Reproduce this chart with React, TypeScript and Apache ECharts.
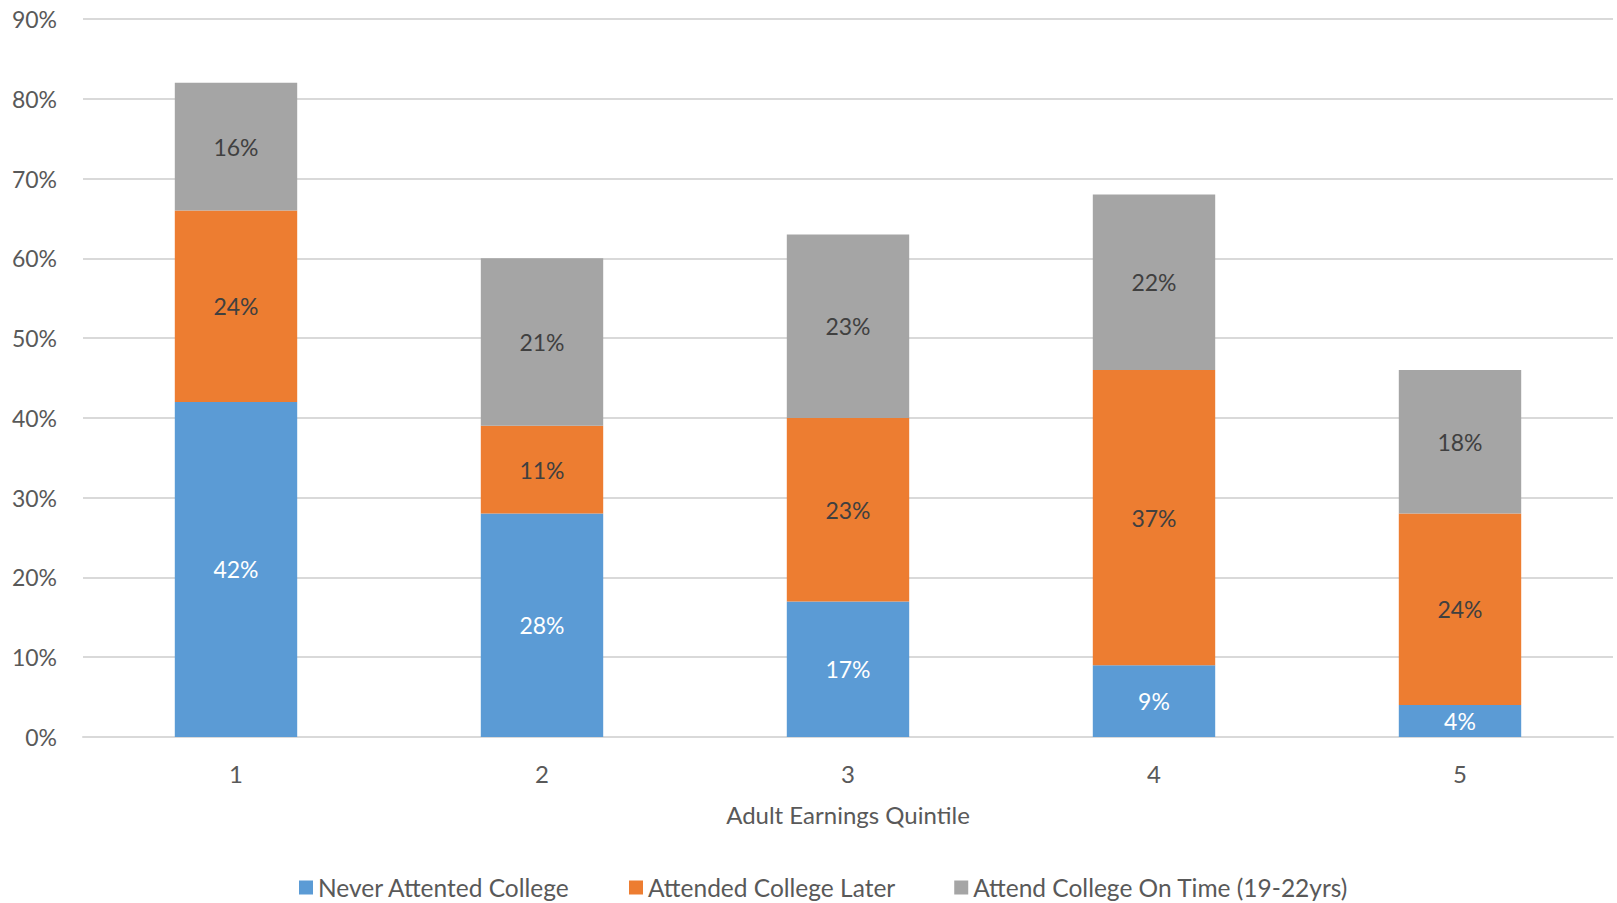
import React, { useEffect, useRef } from "react";
import * as echarts from "echarts";

const categories = ["1", "2", "3", "4", "5"];
const neverAttended = [42, 28, 17, 9, 4];
const attendedLater = [24, 11, 23, 37, 24];
const attendOnTime = [16, 21, 23, 22, 18];
const seriesNames = [
  "Never Attented College",
  "Attended College Later",
  "Attend College On Time (19-22yrs)",
];
const axisTitle = "Adult Earnings Quintile";

const FONT = "Lato, 'Open Sans', sans-serif";

export default function App() {
  const ref = useRef<HTMLDivElement>(null);
  useEffect(() => {
    document.body.style.margin = "0";
    if (!ref.current) return;
    const chart = echarts.init(ref.current, null, { renderer: "svg" });
    const label = (color: string) => ({
      show: true,
      position: "inside",
      formatter: "{c}%",
      color,
      fontSize: 23,
      fontFamily: FONT,
    });
    chart.setOption({
      animation: false,
      textStyle: { fontFamily: FONT },
      grid: { left: 83, right: 4, top: 19, bottom: 166 },
      xAxis: {
        type: "category",
        data: categories,
        axisLine: { lineStyle: { color: "#D9D9D9", width: 2 } },
        axisTick: { show: false },
        axisLabel: { color: "#595959", fontSize: 24, margin: 24, fontFamily: FONT },
        name: axisTitle,
        nameLocation: "middle",
        nameGap: 65,
        nameTextStyle: { color: "#595959", fontSize: 24, fontFamily: FONT },
      },
      yAxis: {
        type: "value",
        min: 0,
        max: 90,
        interval: 10,
        axisLine: { show: false },
        axisTick: { show: false },
        axisLabel: { formatter: "{value}%", color: "#595959", fontSize: 23, margin: 26, fontFamily: FONT },
        splitLine: { lineStyle: { color: "#D9D9D9", width: 2 } },
      },
      legend: {
        left: 294,
        top: 870,
        itemWidth: 14,
        itemHeight: 14,
        itemGap: 59,
        icon: "rect",
        textStyle: { color: "#595959", fontSize: 24.5, fontFamily: FONT },
        data: seriesNames,
      },
      series: [
        {
          name: seriesNames[0],
          type: "bar",
          stack: "total",
          barWidth: "40%",
          data: neverAttended,
          itemStyle: { color: "#5B9BD5" },
          label: label("#FFFFFF"),
        },
        {
          name: seriesNames[1],
          type: "bar",
          stack: "total",
          barWidth: "40%",
          data: attendedLater,
          itemStyle: { color: "#ED7D31" },
          label: label("#404040"),
        },
        {
          name: seriesNames[2],
          type: "bar",
          stack: "total",
          barWidth: "40%",
          data: attendOnTime,
          itemStyle: { color: "#A5A5A5" },
          label: label("#404040"),
        },
      ],
    });
    return () => chart.dispose();
  }, []);
  return <div ref={ref} style={{ width: 1617, height: 903 }} />;
}
